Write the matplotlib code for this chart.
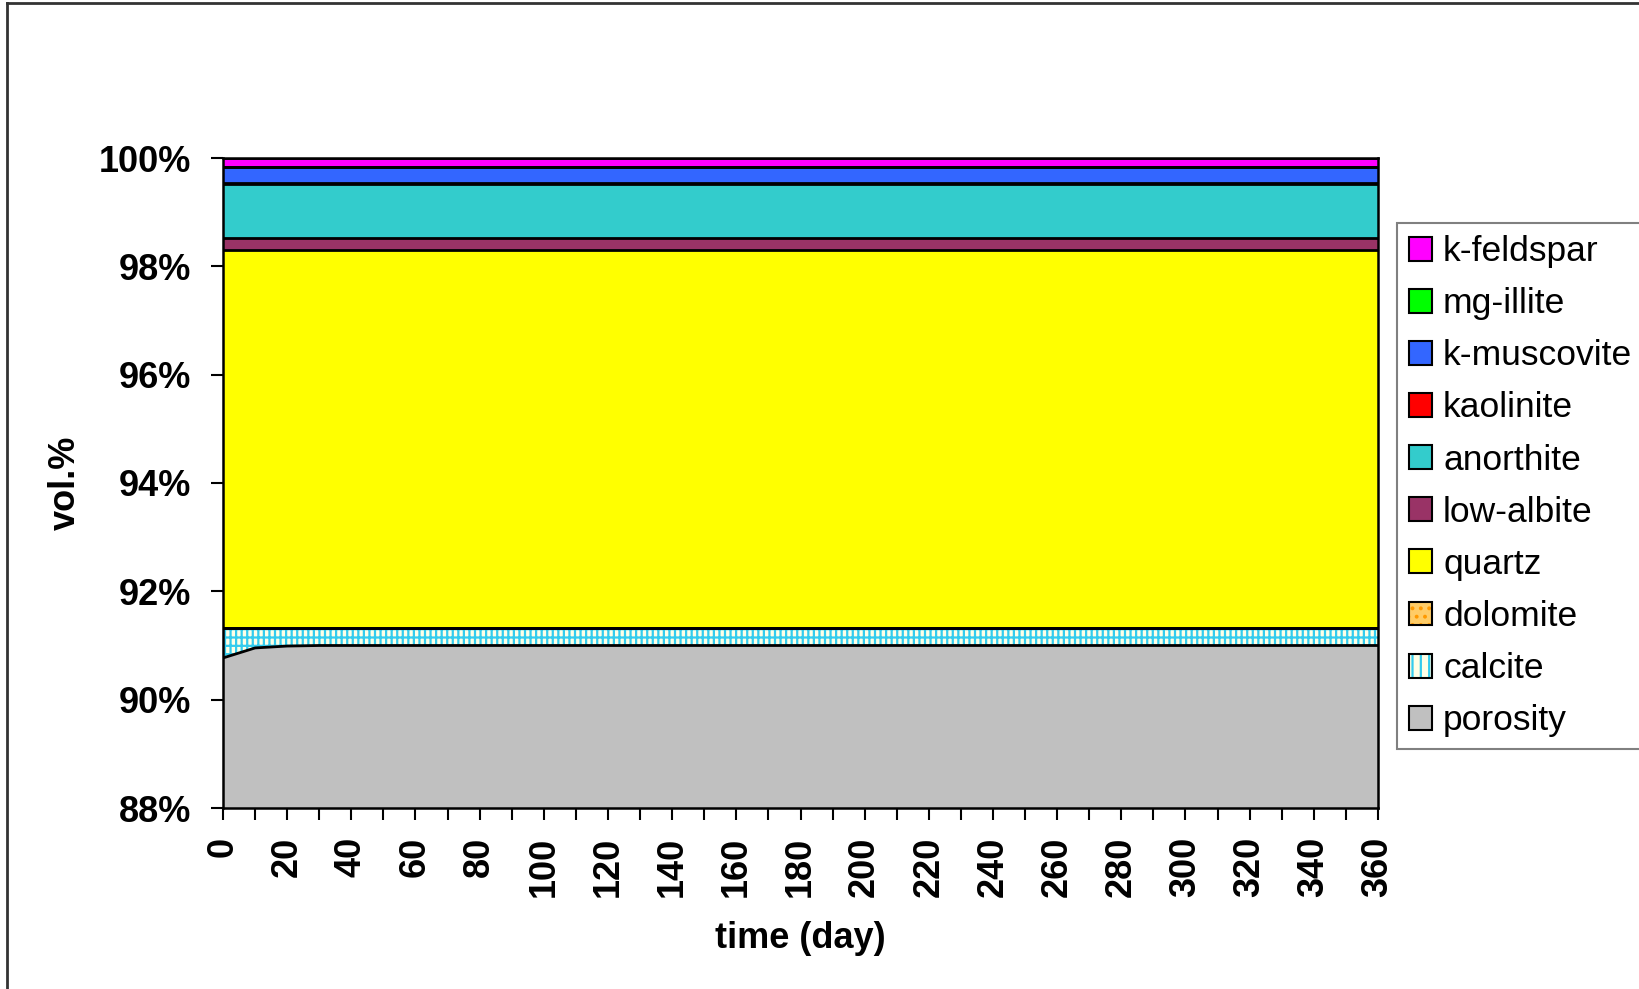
import numpy as np
import matplotlib.pyplot as plt
from matplotlib.patches import Patch
from matplotlib.lines import Line2D
from matplotlib.legend_handler import HandlerTuple
from matplotlib.ticker import FuncFormatter, MultipleLocator

plt.rcParams['font.family'] = 'Liberation Sans'
plt.rcParams['hatch.linewidth'] = 1.6

days = [0, 10, 20, 30, 40, 50, 60, 70, 80, 90, 100, 110, 120, 130, 140, 150, 160, 170, 180,
        190, 200, 210, 220, 230, 240, 250, 260, 270, 280, 290, 300, 310, 320, 330, 340, 350, 360]

# vol.% of each phase, bottom to top
porosity = [90.77, 90.955, 90.99, 91.0, 91.0, 91.0, 91.0, 91.0, 91.0, 91.0, 91.0, 91.0, 91.0,
            91.0, 91.0, 91.0, 91.0, 91.0, 91.0, 91.0, 91.0, 91.0, 91.0, 91.0, 91.0, 91.0, 91.0,
            91.0, 91.0, 91.0, 91.0, 91.0, 91.0, 91.0, 91.0, 91.0, 91.0]
calcite = [0.55, 0.365, 0.33, 0.32, 0.32, 0.32, 0.32, 0.32, 0.32, 0.32, 0.32, 0.32, 0.32,
           0.32, 0.32, 0.32, 0.32, 0.32, 0.32, 0.32, 0.32, 0.32, 0.32, 0.32, 0.32, 0.32, 0.32,
           0.32, 0.32, 0.32, 0.32, 0.32, 0.32, 0.32, 0.32, 0.32, 0.32]
dolomite = [0.0] * 37
quartz = [6.99] * 37
low_albite = [0.21] * 37
anorthite = [1.0] * 37
kaolinite = [0.02] * 37
k_muscovite = [0.29] * 37
mg_illite = [0.01] * 37
k_feldspar = [0.16] * 37

layers = [
    ('porosity', porosity, '#c0c0c0', None, None),
    ('calcite', calcite, '#ffffe6', '|||--', '#33ccee'),
    ('dolomite', dolomite, '#ffcc66', '....', '#ff9900'),
    ('quartz', quartz, '#ffff00', None, None),
    ('low-albite', low_albite, '#993366', None, None),
    ('anorthite', anorthite, '#33cccc', None, None),
    ('kaolinite', kaolinite, '#ff0000', None, None),
    ('k-muscovite', k_muscovite, '#3366ff', None, None),
    ('mg-illite', mg_illite, '#00ff00', None, None),
    ('k-feldspar', k_feldspar, '#ff00ff', None, None),
]

fig = plt.figure(figsize=(16.4, 9.89), dpi=100)
ax = fig.add_axes([223/1640, 1 - 808/989, (1378 - 223)/1640, (808 - 158)/989])

x = np.array(days)
base = np.zeros(len(days))
handles = []
for name, vals, fc, hatch, hc in layers:
    top = base + np.array(vals)
    ax.fill_between(x, base, top, facecolor=fc, edgecolor='none', lw=0)
    if hatch:
        ax.fill_between(x, base, top, facecolor='none', edgecolor=hc, hatch=hatch, lw=0)
    ax.plot(x, top, color='black', lw=2)
    if hatch:
        h = (Patch(facecolor=fc, edgecolor='none'),
             Patch(facecolor='none', edgecolor=hc, hatch=hatch[:2], lw=0),
             Patch(facecolor='none', edgecolor='black', lw=1.5))
    else:
        h = Patch(facecolor=fc, edgecolor='black', lw=1.5)
    handles.append((h, name))
    base = top

ax.set_xlim(0, 360)
ax.set_ylim(88, 100)
ax.xaxis.set_major_locator(MultipleLocator(20))
ax.xaxis.set_minor_locator(MultipleLocator(10))
ax.yaxis.set_major_locator(MultipleLocator(2))
ax.yaxis.set_major_formatter(FuncFormatter(lambda v, p: '%d%%' % round(v)))

for s in ax.spines.values():
    s.set_linewidth(1.8)
ax.tick_params(axis='both', which='both', direction='out', length=8.6, width=1.5)
ax.tick_params(axis='x', which='major', labelrotation=90, pad=12, labelsize=26)
ax.tick_params(axis='y', which='major', pad=14, labelsize=26)
for lab in ax.get_xticklabels() + ax.get_yticklabels():
    lab.set_fontweight('bold')

ax.set_xlabel('time (day)', fontsize=26, fontweight='bold', labelpad=17)
ax.set_ylabel('vol.%', fontsize=26, fontweight='bold', labelpad=12)

handles = handles[::-1]
leg = fig.legend([h for h, n in handles], [n for h, n in handles],
                 loc='upper left', bbox_to_anchor=(1397/1640, 1 - 223/989),
                 borderaxespad=0, fontsize=25.5, frameon=True, fancybox=False,
                 edgecolor='#808080', framealpha=1,
                 handlelength=0.66, handleheight=0.66, handletextpad=0.3,
                 borderpad=0.34, labelspacing=0.54,
                 handler_map={tuple: HandlerTuple(ndivide=1, pad=0)})
leg.get_frame().set_linewidth(1.5)

# outer chart border
fig.add_artist(Line2D([7/1640, 1], [1 - 3/989, 1 - 3/989], color='#333333', lw=2,
                      transform=fig.transFigure))
fig.add_artist(Line2D([7/1640, 7/1640], [0, 1 - 3/989], color='#333333', lw=2,
                      transform=fig.transFigure))

fig.savefig('out.png', dpi=100)
